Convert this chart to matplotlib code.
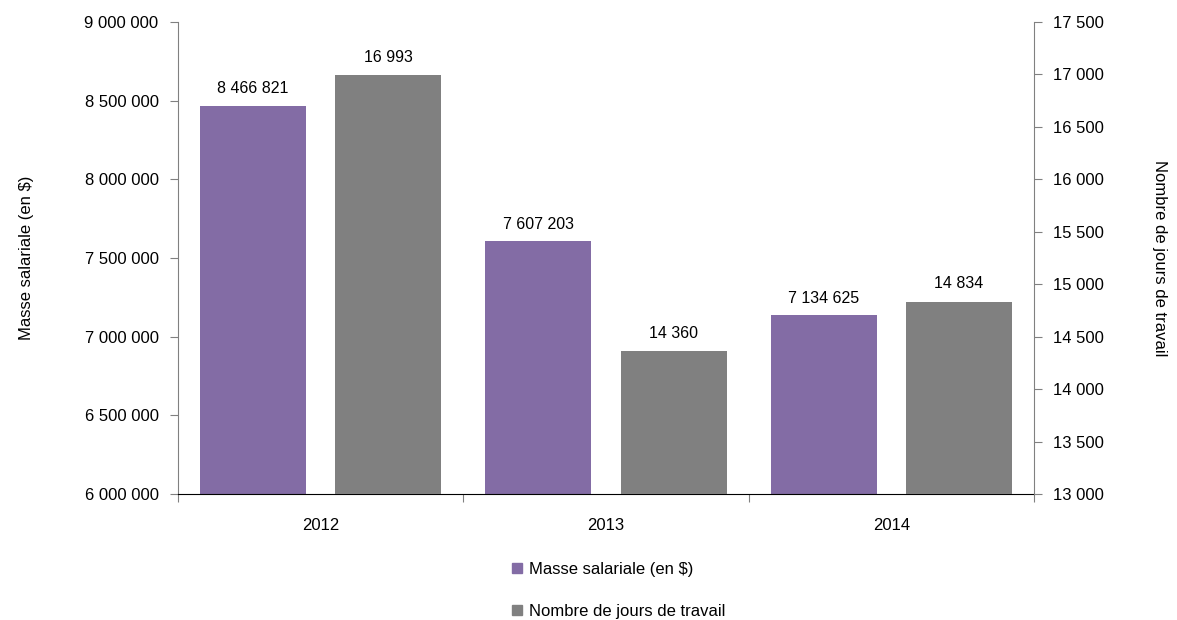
import matplotlib.pyplot as plt
import numpy as np
from matplotlib.lines import Line2D

plt.rcParams['font.family'] = ['Liberation Sans Narrow', 'Liberation Sans', 'DejaVu Sans']

years = ['2012', '2013', '2014']
masse = [8466821, 7607203, 7134625]
jours = [16993, 14360, 14834]
purple = '#836CA5'
gray = '#808080'

def fmt(v):
  return '{:,}'.format(int(v)).replace(',', ' ')

fig = plt.figure(figsize=(11.77, 6.2), dpi=100)
ax = fig.add_axes([0.1512, 0.2032, 0.7273, 0.7613])
ax2 = ax.twinx()

x = np.arange(len(years))
w = 0.372
off = 0.237

ax.bar(x - off, masse, w, color=purple, zorder=2)
ax2.bar(x + off, jours, w, color=gray, zorder=2)

for xi, v in zip(x, masse):
  ax.text(xi - off, v + 60000, fmt(v), ha='center', va='bottom', fontsize=11.5)
for xi, v in zip(x, jours):
  ax2.text(xi + off, v + 100, fmt(v), ha='center', va='bottom', fontsize=11.5)

ax.set_xlim(-0.5, 2.5)
ax.set_ylim(6000000, 9000000)
ax2.set_ylim(13000, 17500)
ax.set_yticks(np.arange(6000000, 9000001, 500000))
ax.set_yticklabels([fmt(v) for v in np.arange(6000000, 9000001, 500000)], fontsize=12)
ax2.set_yticks(np.arange(13000, 17501, 500))
ax2.set_yticklabels([fmt(v) for v in np.arange(13000, 17501, 500)], fontsize=12)

ax.set_xticks([-0.5, 0.5, 1.5, 2.5])
ax.set_xticklabels([])
ax.set_xticks(x, minor=True)
ax.set_xticklabels(years, minor=True, fontsize=12)
ax.tick_params(axis='x', which='minor', length=0, pad=17)
ax.tick_params(axis='x', which='major', length=6, color='#808080')
ax.tick_params(axis='y', length=6, color='#808080', pad=8)
ax2.tick_params(axis='y', length=6, color='#808080', pad=8)

for a in (ax, ax2):
  a.spines['top'].set_visible(False)
ax2.spines['bottom'].set_visible(False)
ax.spines['left'].set_color('#808080')
ax2.spines['right'].set_color('#808080')
ax2.spines['left'].set_visible(False)
ax.spines['right'].set_visible(False)
ax.spines['bottom'].set_color('black')
ax.spines['bottom'].set_zorder(5)

ax.set_ylabel('Masse salariale (en $)', fontsize=12, labelpad=36)
ax2.set_ylabel('Nombre de jours de travail', fontsize=12, rotation=270, labelpad=45)

handles = [Line2D([], [], marker='s', linestyle='', color=purple, markersize=7),
           Line2D([], [], marker='s', linestyle='', color=gray, markersize=7)]
fig.legend(handles, ['Masse salariale (en $)', 'Nombre de jours de travail'],
           loc='center', bbox_to_anchor=(0.525, 0.048), frameon=False, fontsize=12,
           handlelength=0.8, handletextpad=0.3, labelspacing=1.6)

fig.savefig('out.png', dpi=100)
